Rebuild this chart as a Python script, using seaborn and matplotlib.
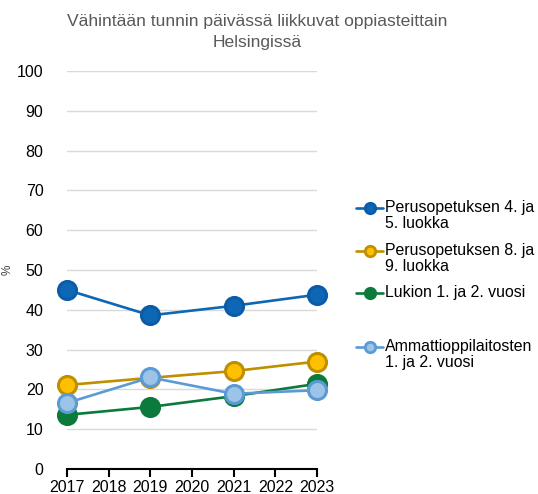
import matplotlib
matplotlib.use("Agg")
import matplotlib.pyplot as plt
import seaborn as sns
import pandas as pd
from matplotlib.lines import Line2D

years = [2017, 2019, 2021, 2023]
series_names = ["Perusopetuksen 4. ja\n5. luokka", "Perusopetuksen 8. ja\n9. luokka",
                "Lukion 1. ja 2. vuosi", "Ammattioppilaitosten\n1. ja 2. vuosi"]
perus45 = [45.0, 38.6, 41.0, 43.8]
perus89 = [21.1, 22.9, 24.6, 27.0]
lukio = [13.6, 15.6, 18.3, 21.4]
ammatti = [16.6, 23.0, 18.9, 19.8]
line_colors = ["#0E67B4", "#BF8F00", "#0B7A3B", "#5B9BD5"]
face_colors = ["#0E67B4", "#FFC000", "#0B7A3B", "#9DC3E6"]
edge_colors = ["#0A5CA8", "#BF8F00", "#0B7A3B", "#5B9BD5"]
x_ticks = list(range(2017, 2024))
y_ticks = list(range(0, 101, 10))
title = "Vähintään tunnin päivässä liikkuvat oppiasteittain\nHelsingissä"

sns.set_theme(style="white")
plt.rcParams["font.family"] = ["Liberation Sans", "DejaVu Sans"]

df = pd.DataFrame({
    "year": years * 4,
    "value": perus45 + perus89 + lukio + ammatti,
    "series": sum([[n] * 4 for n in series_names], []),
})

fig = plt.figure(figsize=(5.38, 4.94), dpi=100)
ax = fig.add_axes([67 / 538, 1 - 469 / 494, 250 / 538, 398 / 494])

for i, name in enumerate(series_names):
    sub = df[df["series"] == name]
    sns.lineplot(data=sub, x="year", y="value", ax=ax, color=line_colors[i],
                 marker="o", markersize=13, markerfacecolor=face_colors[i],
                 markeredgecolor=edge_colors[i], markeredgewidth=2.2,
                 linewidth=1.9, clip_on=False, legend=False, zorder=3 + i)

ax.set_xlim(2017, 2023)
ax.set_ylim(0, 100)
ax.set_xticks(x_ticks)
ax.set_yticks(y_ticks)
ax.yaxis.grid(True, color="#D9D9D9", linewidth=1)
ax.xaxis.grid(False)
for s in ["left", "right", "top"]:
    ax.spines[s].set_visible(False)
ax.spines["bottom"].set_color("black")
ax.spines["bottom"].set_linewidth(1.5)
ax.tick_params(axis="x", which="both", bottom=True, length=6, width=1.5, color="black",
               labelsize=11.5, labelcolor="black", pad=2)
ax.tick_params(axis="y", left=False, labelsize=11.5, labelcolor="black", pad=11)
ax.set_xlabel("")
ax.set_ylabel("%", fontsize=8.5, color="#404040")
ax.yaxis.set_label_coords(-0.215, 0.5)

fig.text(257 / 538, 1 - 32 / 494, title, ha="center", va="center", fontsize=12.6,
         color="#595959", linespacing=1.55)

# legend (manual, handle aligned with first text line)
leg_y = [208, 251, 293, 347]
for i, name in enumerate(series_names):
    yf = 1 - leg_y[i] / 494
    fig.add_artist(Line2D([356 / 538, 383 / 538], [yf, yf], transform=fig.transFigure,
                          color=line_colors[i], linewidth=1.9))
    fig.add_artist(Line2D([369.5 / 538], [yf], transform=fig.transFigure, marker="o",
                          markersize=7.5, markerfacecolor=face_colors[i],
                          markeredgecolor=edge_colors[i], markeredgewidth=2, linestyle=""))
    fig.text(385 / 538, yf + 8 / 494, name, ha="left", va="top", fontsize=11.4,
             color="black", linespacing=1.1)

fig.savefig("out.png", dpi=100)
